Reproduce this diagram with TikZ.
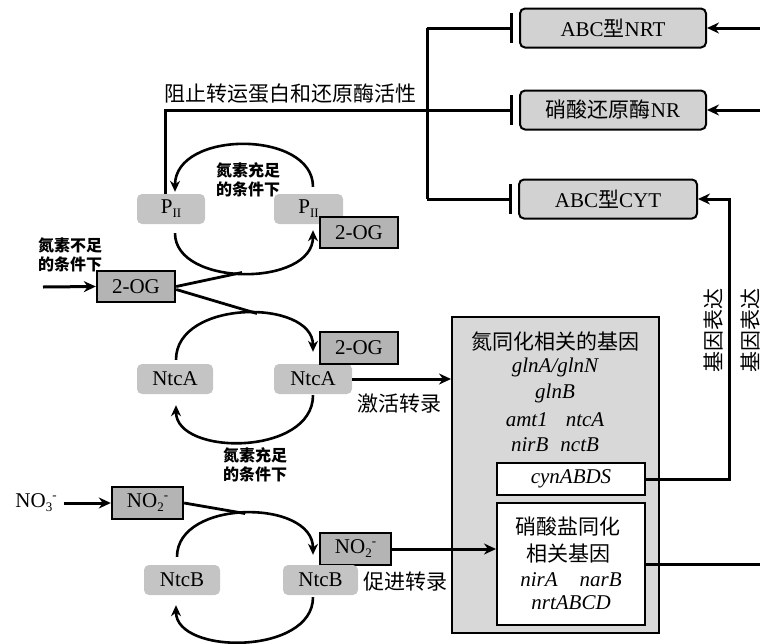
\documentclass[tikz,border=0pt]{standalone}
\usepackage{fontspec}
\setmainfont{Liberation Serif}
\newfontfamily\cjk{Noto Sans CJK SC}
\usetikzlibrary{arrows.meta,calc}
\definecolor{protgray}{RGB}{210,210,210}
\definecolor{pgray}{RGB}{196,196,196}
\definecolor{oggray}{RGB}{180,180,180}
\definecolor{genegray}{RGB}{216,216,216}
\newcommand\subs[1]{\raisebox{-4pt}{\fontsize{13}{13}\selectfont #1}}
\newcommand\sups[1]{\raisebox{8pt}{\fontsize{13}{13}\selectfont #1}}
\begin{document}
\begin{tikzpicture}[x=1pt,y=-1pt,
  fs/.style={font=\fontsize{21}{24}\selectfont},
  prot/.style={draw, line width=2pt, rounded corners=5pt, fill=protgray, minimum width=186pt, minimum height=39pt, inner sep=0pt, fs},
  pbox/.style={fill=pgray, rounded corners=5pt, minimum height=30pt, inner sep=0pt, fs},
  ogbox/.style={draw, line width=2.4pt, fill=oggray, minimum height=31pt, inner sep=0pt, fs},
  wbox/.style={draw, line width=2pt, fill=white, minimum width=148pt, inner sep=0pt, fs},
  conn/.style={line width=3pt},
  arc/.style={line width=2.6pt, -{Stealth[length=11pt,width=10pt]}},
  arr/.style={line width=3pt, -{Stealth[length=12pt,width=11pt]}},
  inh/.style={line width=3pt, -{Bar[width=30pt,line width=3.5pt]}, shorten >=6pt},
  lab/.style={font=\fontsize{16}{19}\selectfont\cjk\bfseries, align=center, inner sep=0pt},
  zh/.style={font=\fontsize{21}{24}\selectfont\cjk, inner sep=0pt},
  gene/.style={font=\fontsize{21}{24}\selectfont\itshape, inner sep=0pt}]
\useasboundingbox (0,0) rectangle (760,643);
\clip (0,0) rectangle (760,643);

% protein boxes top right
\node[prot] (nrt) at (613,28) {ABC{\cjk 型}NRT};
\node[prot] (nr) at (613,110) {{\cjk 硝酸还原酶}NR};
\node[prot, minimum width=178pt] (cyt) at (608,199) {ABC{\cjk 型}CYT};

% PII cycle
\node[pbox, minimum width=68pt] (pl) at (171,209) {P\subs{II}};
\node[pbox, minimum width=69pt] (pr) at (308.5,209) {P\subs{II}};
\node[ogbox, minimum width=78pt] (ogpr) at (359,232.5) {2-OG};
\node[ogbox, minimum width=78pt] (og1) at (136,286.5) {2-OG};

% NtcA cycle
\node[pbox, minimum width=76pt] (nal) at (175,379) {NtcA};
\node[pbox, minimum width=78pt] (nar) at (313,379) {NtcA};
\node[ogbox, minimum width=78pt, minimum height=32pt] (ogna) at (359,348) {2-OG};

% NtcB cycle
\node[fs, inner sep=0pt] (no3) at (36,503) {NO\subs{3}\sups{-}};
\node[ogbox, minimum width=71pt, minimum height=32pt] (no2a) at (147.5,503) {NO\subs{2}\sups{-}};
\node[ogbox, minimum width=71pt, minimum height=32pt] (no2b) at (355.5,549) {NO\subs{2}\sups{-}};
\node[pbox, minimum width=76pt] (nbl) at (182,580) {NtcB};
\node[pbox, minimum width=75pt] (nbr) at (320.5,580) {NtcB};

% gene box
\node[draw, line width=2pt, fill=genegray, minimum width=207pt, minimum height=316pt] (gene) at (555.5,475) {};
\node[zh] (gt) at (555,342) {氮同化相关的基因};
\node[gene] (g1) at (555,367) {glnA/glnN};
\node[gene] (g2) at (555,393) {glnB};
\node[gene] (g3) at (555,420) {amt1\hspace{18pt}ntcA};
\node[gene] (g4) at (555,445) {nirB\hspace{12pt}nctB};
\node[wbox, minimum height=32pt] (cyn) at (571,479) {};
\node[gene] (cynt) at (571,479) {cynABDS};
\node[wbox, minimum height=122pt] (nit) at (571,564) {};
\node[zh] (n1) at (568,527) {硝酸盐同化};
\node[zh] (n2) at (568,553) {相关基因};
\node[gene] (n3) at (571,580) {nirA\hspace{22pt}narB};
\node[gene] (n4) at (571,603) {nrtABCD};

% labels
\node[zh] (stop) at (290,94) {阻止转运蛋白和还原酶活性};
\node[lab] (l1) at (248,180) {氮素充足\\的条件下};
\node[lab, align=left] (l2) at (70,255) {氮素不足\\的条件下};
\node[lab] (l3) at (255,465) {氮素充足\\的条件下};
\node[zh] (act) at (399,404) {激活转录};
\node[zh] (prom) at (405,582) {促进转录};
\node[zh, rotate=90] (ge1) at (713,330) {基因表达};
\node[zh, rotate=90] (ge2) at (750,330) {基因表达};

% inhibition network
\coordinate (tt) at (427,28);
\coordinate (tb) at (427,199);
\draw[conn] (tt) -- (tb);
\draw[inh] (tt) -- (nrt.west);
\draw[inh] (tb) -- (cyt.west);
\draw[inh] ($(pl.north)+(-6,0)$) |- (nr.west);

% arrows from right edge
\coordinate (r1) at (764,28);
\coordinate (r2) at (764,110);
\draw[arr] (r1) -- (nrt.east);
\draw[arr] (r2) -- (nr.east);
\coordinate (rc) at (729,479);
\draw[arr] (cyn.east) -- (rc) |- (cyt.east);
\draw[conn] (nit.east) -- (nit.east -| r1);

% PII cycle arcs
\draw[arc] ($(pr.north)+(4.5,-7)$) .. controls +(0,-57) and +(0,-62) .. ($(pl.north)+(4,-2)$);
\draw[arc] ($(pl.south)+(4,9)$) .. controls +(0,54) and +(0,57) .. ($(pr.south)+(4.5,6)$);
\coordinate (m1) at (242,272.5);
\draw[conn, line width=2.8pt] (og1.east) -- (m1);
\coordinate (in1) at (43,287);
\draw[arr] (in1) -- (og1.west);

% NtcA cycle arcs
\draw[arc] ($(nal.north)+(1,-4)$) .. controls +(0,-61) and +(0,-53) .. ($(nar.north)+(0,-12)$);
\draw[arc] ($(nar.south)+(0,1)$) .. controls +(0,61) and +(0,51) .. ($(nal.south)+(1,11)$);
\coordinate (m2) at (257,313.5);
\draw[conn, line width=2.8pt] ($(og1.east)+(0,3)$) -- (m2);
\draw[arr] (nar.east) -- (nar.east -| gene.west);

% NtcB cycle arcs
\draw[arc] ($(nbl.north)+(-5,-8)$) .. controls +(0,-58) and +(0,-56) .. ($(nbr.north)+(-7.5,-10)$);
\draw[arc] ($(nbr.south)+(-7.5,2)$) .. controls +(0,58) and +(0,50) .. ($(nbl.south)+(-6,10)$);
\coordinate (m3) at (245,513.5);
\draw[conn, line width=2.8pt] (no2a.east) -- (m3);
\draw[arr, shorten <=7pt] (no3.east) -- (no2a.west);
\draw[arr] (no2b.east) -- (no2b.east -| nit.west);
\end{tikzpicture}
\end{document}
